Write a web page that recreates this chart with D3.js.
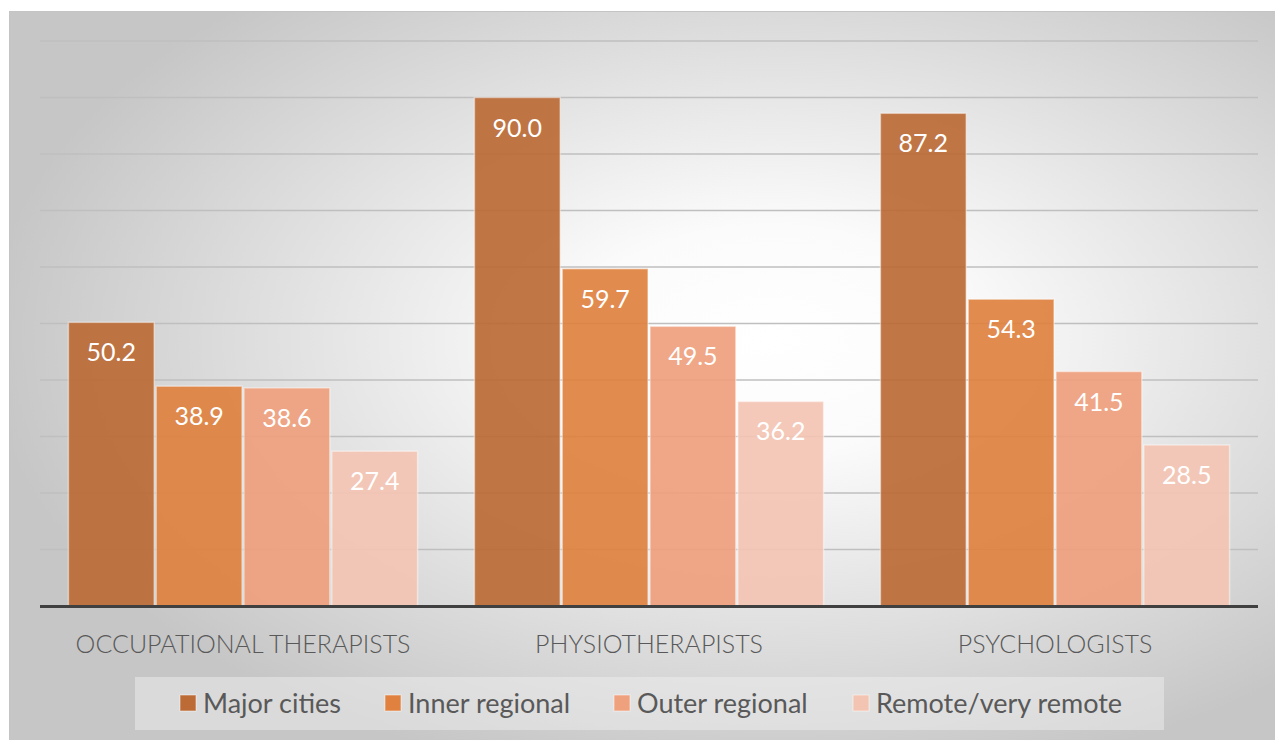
<!DOCTYPE html>
<html>
<head>
<meta charset="utf-8">
<script src="https://cdn.jsdelivr.net/npm/d3@7"></script>
<style>
  body { margin: 0; background: #fff; }
  text { font-family: Lato, "Noto Sans", sans-serif; }
</style>
</head>
<body>
<script>
// data
var categories = ["OCCUPATIONAL THERAPISTS", "PHYSIOTHERAPISTS", "PSYCHOLOGISTS"];
var seriesNames = ["Major cities", "Inner regional", "Outer regional", "Remote/very remote"];
var majorCities = [50.2, 90.0, 87.2];
var innerRegional = [38.9, 59.7, 54.3];
var outerRegional = [38.6, 49.5, 41.5];
var remote = [27.4, 36.2, 28.5];
var gridTicks = [10, 20, 30, 40, 50, 60, 70, 80, 90, 100];

var colors = ["#BC6A36", "#E0813F", "#EFA07D", "#F4C4B3"];
var seriesValues = [majorCities, innerRegional, outerRegional, remote];

var width = 1275, height = 740;
var svg = d3.select("body").append("svg").attr("width", width).attr("height", height);

// background gradient
var defs = svg.append("defs");
var grad = defs.append("radialGradient").attr("id", "bg")
  .attr("cx", "0.6").attr("cy", "0.45").attr("r", "0.62");
grad.append("stop").attr("offset", "0").attr("stop-color", "#ffffff");
grad.append("stop").attr("offset", "0.25").attr("stop-color", "#fbfbfb");
grad.append("stop").attr("offset", "1").attr("stop-color", "#c6c6c6");

svg.append("rect").attr("x", 9.5).attr("y", 11.5).attr("width", width - 9).attr("height", height - 11)
  .attr("fill", "url(#bg)").attr("stroke", "#c4c4c4").attr("stroke-width", 1);

var x0 = d3.scaleBand().domain(categories).range([40, 1258]).paddingInner(0.14).paddingOuter(0.07);
var x1 = d3.scaleBand().domain(seriesNames).range([0, x0.bandwidth()]).paddingInner(0.023);
var y = d3.scaleLinear().domain([0, 100]).range([606, 41]);

// gridlines
svg.append("g").selectAll("line").data(gridTicks).enter().append("line")
  .attr("x1", 40).attr("x2", 1258)
  .attr("y1", function(d){ return y(d); }).attr("y2", function(d){ return y(d); })
  .attr("stroke", "#bfbfbf").attr("stroke-width", 1.3);

// bars
var rows = [];
categories.forEach(function(c, i){
  seriesNames.forEach(function(s, j){
    rows.push({cat: c, series: s, value: seriesValues[j][i], color: colors[j]});
  });
});

var bars = svg.append("g").selectAll("g").data(rows).enter().append("g");
bars.append("rect")
  .attr("x", function(d){ return x0(d.cat) + x1(d.series); })
  .attr("y", function(d){ return y(d.value); })
  .attr("width", x1.bandwidth())
  .attr("height", function(d){ return y(0) - y(d.value); })
  .attr("fill", function(d){ return d.color; })
  .attr("fill-opacity", 0.92)
  .attr("stroke", "rgba(255,255,255,0.45)").attr("stroke-width", 1.5);

bars.append("text")
  .attr("x", function(d){ return x0(d.cat) + x1(d.series) + x1.bandwidth() / 2; })
  .attr("y", function(d){ return y(d.value) + 39; })
  .attr("text-anchor", "middle")
  .attr("fill", "#fff").attr("font-size", 25)
  .text(function(d){ return d.value.toFixed(1); });

// baseline
svg.append("line").attr("x1", 40).attr("x2", 1258).attr("y1", y(0) + 0.5).attr("y2", y(0) + 0.5)
  .attr("stroke", "#404040").attr("stroke-width", 3);

// category axis
var xAxis = d3.axisBottom(x0).tickSize(0).tickPadding(0);
var axisG = svg.append("g").attr("transform", "translate(0," + 653 + ")").call(xAxis);
axisG.select(".domain").remove();
axisG.selectAll("text").attr("font-size", 25).attr("fill", "#595959").attr("dy", 0)
  .style("font-family", "Lato, 'Noto Sans', sans-serif").style("font-weight", 300);

// legend
svg.append("rect").attr("x", 135).attr("y", 677).attr("width", 1029).attr("height", 53)
  .attr("fill", "#f2f2f2").attr("fill-opacity", 0.45);

var legendX = [180, 385, 614, 853];
var leg = svg.append("g").selectAll("g").data(seriesNames).enter().append("g")
  .attr("transform", function(d, i){ return "translate(" + legendX[i] + ",695)"; });
leg.append("rect").attr("width", 16).attr("height", 16)
  .attr("fill", function(d, i){ return colors[i]; })
  .attr("stroke", "rgba(255,255,255,0.5)").attr("stroke-width", 1);
leg.append("text").attr("x", 23).attr("y", 17.5)
  .attr("font-size", 27).attr("fill", "#595959")
  .text(function(d){ return d; });
</script>
</body>
</html>
